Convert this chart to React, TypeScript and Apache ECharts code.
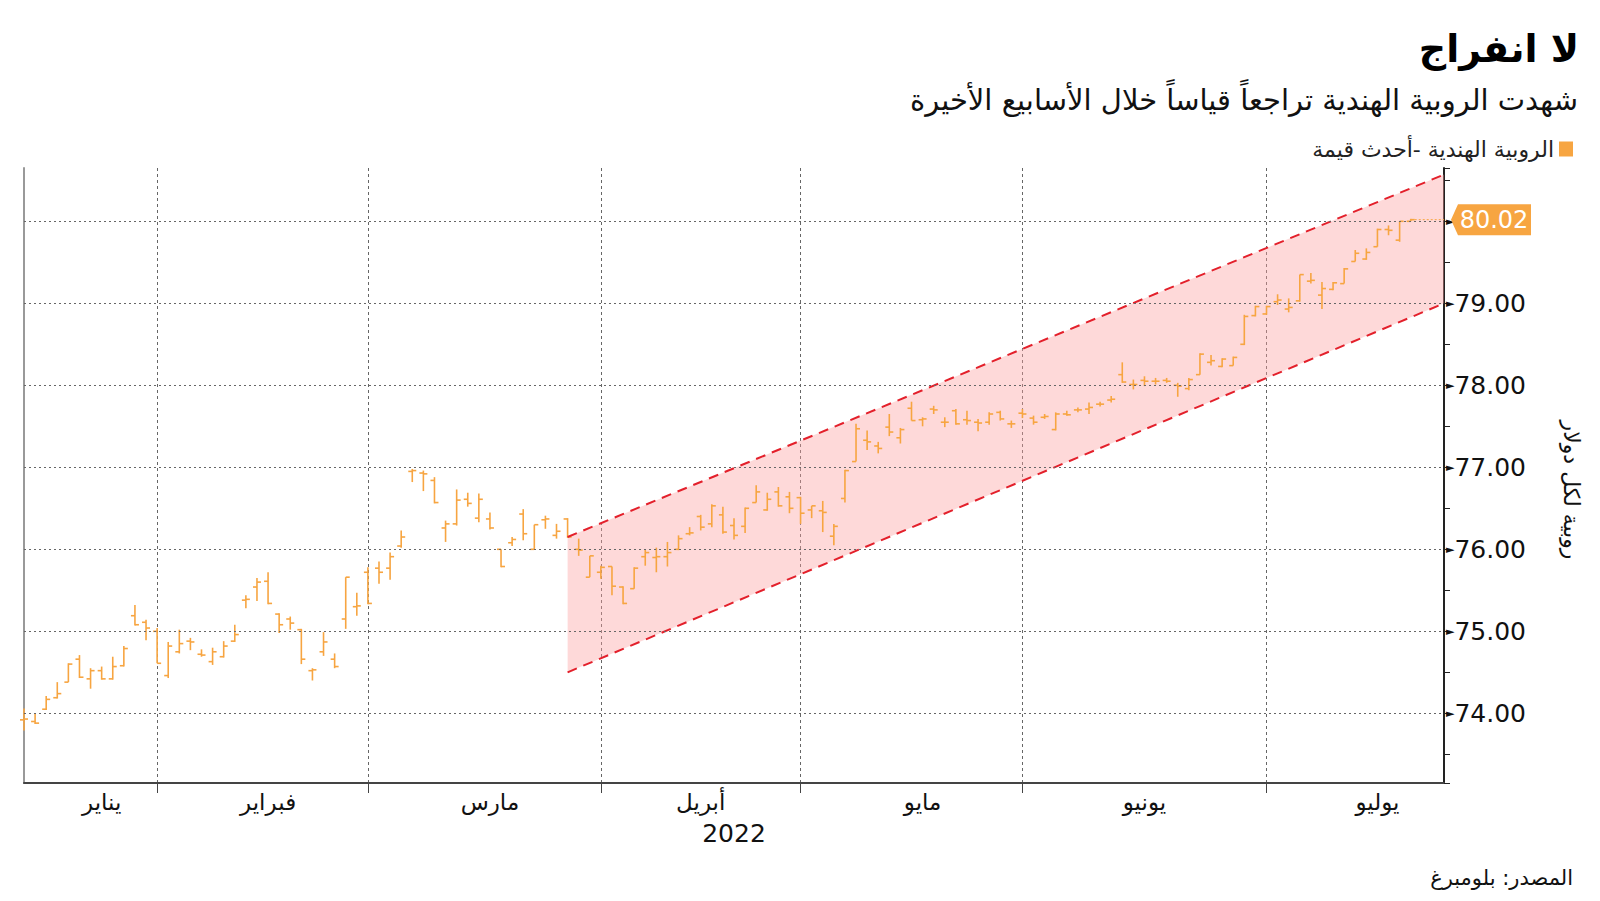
import React, { useEffect, useRef } from "react";
import * as echarts from "echarts";

// ---------- data ----------
const janDays = [13, 14, 17, 18, 19, 20, 21, 24, 25, 27, 28, 31];
const febDays = [1, 2, 3, 4, 7, 8, 9, 10, 11, 14, 15, 16, 17, 21, 22, 23, 24, 25, 28];
const marDays = [2, 3, 4, 7, 8, 9, 10, 11, 14, 15, 16, 17, 21, 22, 23, 24, 25, 28, 29, 30, 31];
const aprDays = [4, 5, 6, 7, 8, 11, 12, 13, 18, 19, 20, 21, 22, 25, 26, 27, 28, 29];
const mayDays = [2, 4, 5, 6, 9, 10, 11, 12, 13, 17, 18, 19, 20, 23, 24, 25, 26, 27, 30, 31];
const junDays = [1, 2, 3, 6, 7, 8, 9, 10, 13, 14, 15, 16, 17, 20, 21, 22, 23, 24, 27, 28, 29, 30];
const julDays = [1, 4, 5, 6, 7, 8, 11, 12, 13, 14, 15, 18, 19, 20, 21, 22, 25];

const monthNames = ["يناير", "فبراير", "مارس", "أبريل", "مايو", "يونيو", "يوليو"];
const monthLabelIndex = [7, 22, 42, 61, 81, 101, 122];

const opens = [
  73.92, 73.9, 74.05, 74.19, 74.38, 74.66, 74.42, 74.52, 74.42, 74.58, 75.19, 75.11,
  75.0, 74.46, 74.75, 74.88, 74.72, 74.63, 74.69, 74.88, 75.38, 75.54, 75.61, 75.21, 75.15, 75.02, 74.52, 74.75, 74.66, 75.15, 75.3,
  75.72, 75.77, 75.77, 76.04, 76.95, 76.93, 76.84, 76.26, 76.31, 76.61, 76.38, 76.37, 76.0, 76.08, 76.43, 76.0, 76.36, 76.17, 76.37, 76.0, 75.66,
  75.72, 75.79, 75.54, 75.52, 75.91, 75.9, 75.91, 76.0, 76.19, 76.4, 76.31, 76.42, 76.29, 76.28, 76.57, 76.48, 76.7, 76.64,
  76.63, 76.48, 76.47, 76.16, 76.62, 77.07, 77.33, 77.26, 77.49, 77.36, 77.72, 77.58, 77.71, 77.55, 77.69, 77.58, 77.55, 77.55, 77.67, 77.53,
  77.66, 77.6, 77.61, 77.46, 77.65, 77.7, 77.71, 77.77, 77.82, 78.13, 78.01, 78.06, 78.05, 78.06, 78.0, 77.96, 78.13, 78.28, 78.23, 78.24, 78.5, 78.85,
  78.87, 79.02, 78.93, 79.03, 79.27, 79.1, 79.17, 79.24, 79.51, 79.54, 79.69, 79.9, 79.77, 80.0,
];
const highs = [
  74.06, 74.0, 74.21, 74.38, 74.61, 74.71, 74.55, 74.57, 74.69, 74.82, 75.32, 75.14,
  75.04, 74.87, 75.02, 74.92, 74.78, 74.8, 74.88, 75.08, 75.44, 75.65, 75.72, 75.22, 75.18, 75.03, 74.55, 74.99, 74.73, 75.66, 75.47,
  75.78, 75.85, 75.96, 76.23, 76.98, 76.96, 76.88, 76.35, 76.73, 76.69, 76.68, 76.45, 76.0, 76.15, 76.49, 76.3, 76.41, 76.31, 76.38, 76.13, 75.92,
  75.8, 75.79, 75.55, 75.78, 76.0, 76.02, 76.09, 76.17, 76.27, 76.42, 76.55, 76.52, 76.38, 76.51, 76.78, 76.69, 76.76, 76.7,
  76.64, 76.53, 76.59, 76.31, 76.97, 77.53, 77.45, 77.31, 77.65, 77.48, 77.8, 77.61, 77.75, 77.61, 77.71, 77.69, 77.59, 77.67, 77.69, 77.57,
  77.71, 77.63, 77.65, 77.67, 77.69, 77.73, 77.79, 77.8, 77.87, 78.28, 78.07, 78.11, 78.09, 78.09, 78.03, 78.09, 78.39, 78.37, 78.33, 78.35, 78.86, 78.97,
  78.97, 79.11, 79.06, 79.35, 79.37, 79.26, 79.26, 79.43, 79.65, 79.67, 79.91, 79.95, 80.0, 80.03,
];
const lows = [
  73.79, 73.87, 74.04, 74.18, 74.38, 74.43, 74.3, 74.41, 74.41, 74.57, 75.07, 74.89,
  74.61, 74.43, 74.73, 74.77, 74.69, 74.59, 74.68, 74.87, 75.28, 75.37, 75.33, 74.98, 75.02, 74.6, 74.4, 74.7, 74.55, 75.03, 75.19,
  75.33, 75.58, 75.63, 76.02, 76.82, 76.71, 76.56, 76.09, 76.29, 76.52, 76.33, 76.24, 75.78, 76.04, 76.11, 76.0, 76.25, 76.13, 76.14, 75.92, 75.66,
  75.64, 75.44, 75.33, 75.52, 75.8, 75.72, 75.79, 75.99, 76.17, 76.23, 76.27, 76.19, 76.12, 76.2, 76.57, 76.47, 76.52, 76.44,
  76.31, 76.38, 76.21, 76.05, 76.57, 77.07, 77.21, 77.17, 77.38, 77.29, 77.57, 77.5, 77.65, 77.49, 77.52, 77.52, 77.44, 77.52, 77.57, 77.48,
  77.6, 77.52, 77.59, 77.45, 77.63, 77.67, 77.65, 77.74, 77.79, 78.03, 77.95, 77.99, 78.01, 78.03, 77.86, 77.94, 78.13, 78.24, 78.22, 78.24, 78.49, 78.84,
  78.86, 78.98, 78.89, 79.02, 79.24, 78.93, 79.16, 79.24, 79.51, 79.53, 79.69, 79.83, 79.75, 80.0,
];
const closes = [
  73.93, 73.88, 74.17, 74.24, 74.6, 74.44, 74.52, 74.42, 74.57, 74.79, 75.08, 75.04,
  74.61, 74.82, 74.85, 74.87, 74.71, 74.75, 74.82, 74.96, 75.39, 75.6, 75.34, 75.08, 75.1, 74.66, 74.53, 74.87, 74.57, 75.66, 75.31,
  75.34, 75.72, 75.91, 76.15, 76.96, 76.92, 76.57, 76.31, 76.6, 76.56, 76.61, 76.26, 75.79, 76.12, 76.19, 76.3, 76.37, 76.22, 76.15, 75.99, 75.92,
  75.78, 75.55, 75.34, 75.77, 75.96, 75.91, 75.96, 76.13, 76.2, 76.27, 76.53, 76.21, 76.17, 76.5, 76.7, 76.61, 76.53, 76.5,
  76.44, 76.53, 76.45, 76.28, 76.96, 77.47, 77.31, 77.23, 77.43, 77.46, 77.57, 77.59, 77.7, 77.55, 77.53, 77.57, 77.54, 77.65, 77.59, 77.53,
  77.65, 77.55, 77.62, 77.65, 77.64, 77.7, 77.73, 77.77, 77.83, 78.04, 78.01, 78.05, 78.05, 78.05, 77.99, 78.07, 78.38, 78.3, 78.32, 78.34, 78.84, 78.96,
  78.96, 79.04, 78.95, 79.35, 79.28, 79.18, 79.25, 79.42, 79.61, 79.62, 79.9, 79.89, 80.0, 80.02,
];

const gridValues = [74, 75, 76, 77, 78, 79, 80];
const channelIndex = [49, 128];
const channelUpper = [76.15, 80.57];
const channelLower = [74.5, 79.0];

const seriesName = "الروبية الهندية -أحدث قيمة";

// ---------- derived ----------
const monthDays = [janDays, febDays, marDays, aprDays, mayDays, junDays, julDays];
const categories: string[] = [];
const monthStarts: number[] = [];
monthDays.forEach((days, m) => {
  monthStarts.push(categories.length);
  days.forEach((d) => {
    categories.push(`2022-${String(m + 1).padStart(2, "0")}-${String(d).padStart(2, "0")}`);
  });
});
const ohlcRows = opens.map((o, i) => [i, o, highs[i], lows[i], closes[i]]);
const lastIndex = closes.length - 1;
const lastClose = closes[lastIndex];
const lastCategory = categories.length - 1;
const lastTick = Math.round(lastClose);

const ORANGE = "#F7A541";
const FONT = "DejaVu Sans";

export default function App() {
  const ref = useRef<HTMLDivElement>(null);

  useEffect(() => {
    if (!ref.current) return;
    const chart = echarts.init(ref.current, null, { renderer: "svg" });

    const option: any = {
      animation: false,
      backgroundColor: "#ffffff",
      textStyle: { fontFamily: FONT },
      title: [
        {
          text: "لا انفراج",
          right: 16,
          top: 25,
          textStyle: { fontSize: 38, fontWeight: "bold", color: "#000", fontFamily: FONT },
        },
        {
          text: "شهدت الروبية الهندية تراجعاً قياساً خلال الأسابيع الأخيرة",
          right: 17,
          top: 80,
          textStyle: { fontSize: 29, fontWeight: "normal", color: "#111", fontFamily: FONT },
        },
        {
          text: "المصدر: بلومبرغ",
          right: 22,
          top: 862,
          textStyle: { fontSize: 21, fontWeight: "normal", color: "#111", fontFamily: FONT },
        },
      ],
      legend: {
        data: [seriesName],
        right: 22,
        top: 133,
        align: "right",
        icon: "rect",
        itemWidth: 14,
        itemHeight: 15,
        itemGap: 8,
        textStyle: { fontSize: 22, color: "#222", fontFamily: FONT },
      },
      grid: { left: 24, right: 156, top: 168, bottom: 118 },
      xAxis: {
        type: "category",
        data: categories,
        boundaryGap: false,
        axisLine: { show: true, lineStyle: { color: "#444", width: 2 } },
        axisTick: {
          show: true,
          interval: (i: number) => monthStarts.includes(i) && i > 0,
          length: 10,
          lineStyle: { color: "#444", width: 1 },
        },
        axisLabel: {
          interval: (i: number) => monthLabelIndex.includes(i),
          formatter: (_v: string, i: number) => {
            const k = monthLabelIndex.indexOf(i);
            return k >= 0 ? monthNames[k] : "";
          },
          fontSize: 23,
          color: "#111",
          margin: 7,
          fontFamily: FONT,
        },
        splitLine: {
          show: true,
          interval: (i: number) => monthStarts.includes(i) && i > 0,
          lineStyle: { color: "#666", type: [3, 3], width: 1 },
        },
        name: "2022",
        nameLocation: "middle",
        nameGap: 38,
        nameTextStyle: { fontSize: 25, color: "#111", fontFamily: FONT },
      },
      yAxis: [
        {
          type: "value",
          position: "right",
          min: 73.15,
          max: 80.65,
          splitNumber: 15,
          axisLine: { show: true, lineStyle: { color: "#222", width: 2 } },
          axisTick: { show: true, length: 6, lineStyle: { color: "#222", width: 1 } },
          axisLabel: {
            margin: 2,
            formatter: (v: number) => {
              if (Math.abs(v - Math.round(v)) > 1e-6) return "";
              // the latest-value tag covers the top tick's number
              if (Math.round(v) === lastTick) return "{t|►}";
              return "{t|►}" + v.toFixed(2);
            },
            fontSize: 25,
            color: "#111",
            fontFamily: FONT,
            rich: {
              t: { fontSize: 11, color: "#111", fontFamily: FONT },
            },
          },
          splitLine: { show: false },
        },
        {
          type: "value",
          position: "left",
          min: 73.15,
          max: 80.65,
          axisLine: { show: true, lineStyle: { color: "#999", width: 2 } },
          axisTick: { show: false },
          axisLabel: { show: false },
          splitLine: { show: false },
        },
      ],
      graphic: [
        {
          type: "text",
          x: 1571,
          y: 490,
          rotation: -Math.PI / 2,
          style: {
            text: "روبية لكل دولار",
            fontSize: 22,
            fill: "#111",
            align: "center",
            verticalAlign: "middle",
            fontFamily: FONT,
          },
        },
      ],
      series: [
        {
          name: "band",
          type: "custom",
          z: 1,
          silent: true,
          data: [[0]],
          renderItem: (_p: any, api: any) => {
            const a = api.coord([channelIndex[0], channelUpper[0]]);
            const b = api.coord([channelIndex[1], channelUpper[1]]);
            const c = api.coord([channelIndex[1], channelLower[1]]);
            const d = api.coord([channelIndex[0], channelLower[0]]);
            return {
              type: "polygon",
              shape: { points: [a, b, c, d] },
              style: { fill: "rgba(252, 160, 160, 0.4)", stroke: "none" },
            };
          },
        },
        {
          name: "upper",
          type: "line",
          z: 4,
          silent: true,
          symbol: "none",
          data: channelIndex.map((i, k) => [categories[i], channelUpper[k]]),
          lineStyle: { color: "#E3202B", width: 2, type: [10, 7] },
        },
        {
          name: "lower",
          type: "line",
          z: 4,
          silent: true,
          symbol: "none",
          data: channelIndex.map((i, k) => [categories[i], channelLower[k]]),
          lineStyle: { color: "#E3202B", width: 2, type: [10, 7] },
        },
        {
          name: seriesName,
          type: "custom",
          z: 3,
          itemStyle: { color: ORANGE },
          encode: { x: 0, y: [1, 2, 3, 4] },
          data: ohlcRows,
          renderItem: (_p: any, api: any) => {
            const idx = api.value(0);
            const pO = api.coord([idx, api.value(1)]);
            const pH = api.coord([idx, api.value(2)]);
            const pL = api.coord([idx, api.value(3)]);
            const pC = api.coord([idx, api.value(4)]);
            const x = pH[0];
            const st = { stroke: ORANGE, lineWidth: 1.6 };
            return {
              type: "group",
              children: [
                { type: "line", shape: { x1: x, y1: pH[1], x2: x, y2: pL[1] }, style: st },
                { type: "line", shape: { x1: x - 4, y1: pO[1], x2: x, y2: pO[1] }, style: st },
                { type: "line", shape: { x1: x, y1: pC[1], x2: x + 4, y2: pC[1] }, style: st },
              ],
            };
          },
          markLine: {
            silent: true,
            symbol: "none",
            label: { show: false },
            lineStyle: { color: "#666", type: [2, 3], width: 1 },
            data: gridValues.map((v) => ({ yAxis: v })),
          },
        },
        {
          name: "last",
          type: "line",
          z: 5,
          silent: true,
          symbol: "none",
          data: [
            [categories[lastIndex], lastClose],
            [categories[lastCategory], lastClose],
          ],
          lineStyle: { color: ORANGE, width: 1, type: [2, 2] },
          markPoint: {
            silent: true,
            symbol: "path://M0,15 L7,0 L80,0 L80,30 L7,30 Z",
            symbolSize: [80, 31],
            symbolOffset: [47, 0],
            itemStyle: { color: ORANGE },
            label: {
              show: true,
              position: "inside",
              offset: [3, 0],
              formatter: () => lastClose.toFixed(2),
              color: "#fff",
              fontSize: 24,
              fontFamily: FONT,
            },
            data: [{ coord: [categories[lastCategory], lastClose] }],
          },
        },
      ],
    };

    chart.setOption(option);
    return () => chart.dispose();
  }, []);

  return (
    <div
      ref={ref}
      style={{ position: "fixed", left: 0, top: 0, width: 1600, height: 901, background: "#fff" }}
    />
  );
}
